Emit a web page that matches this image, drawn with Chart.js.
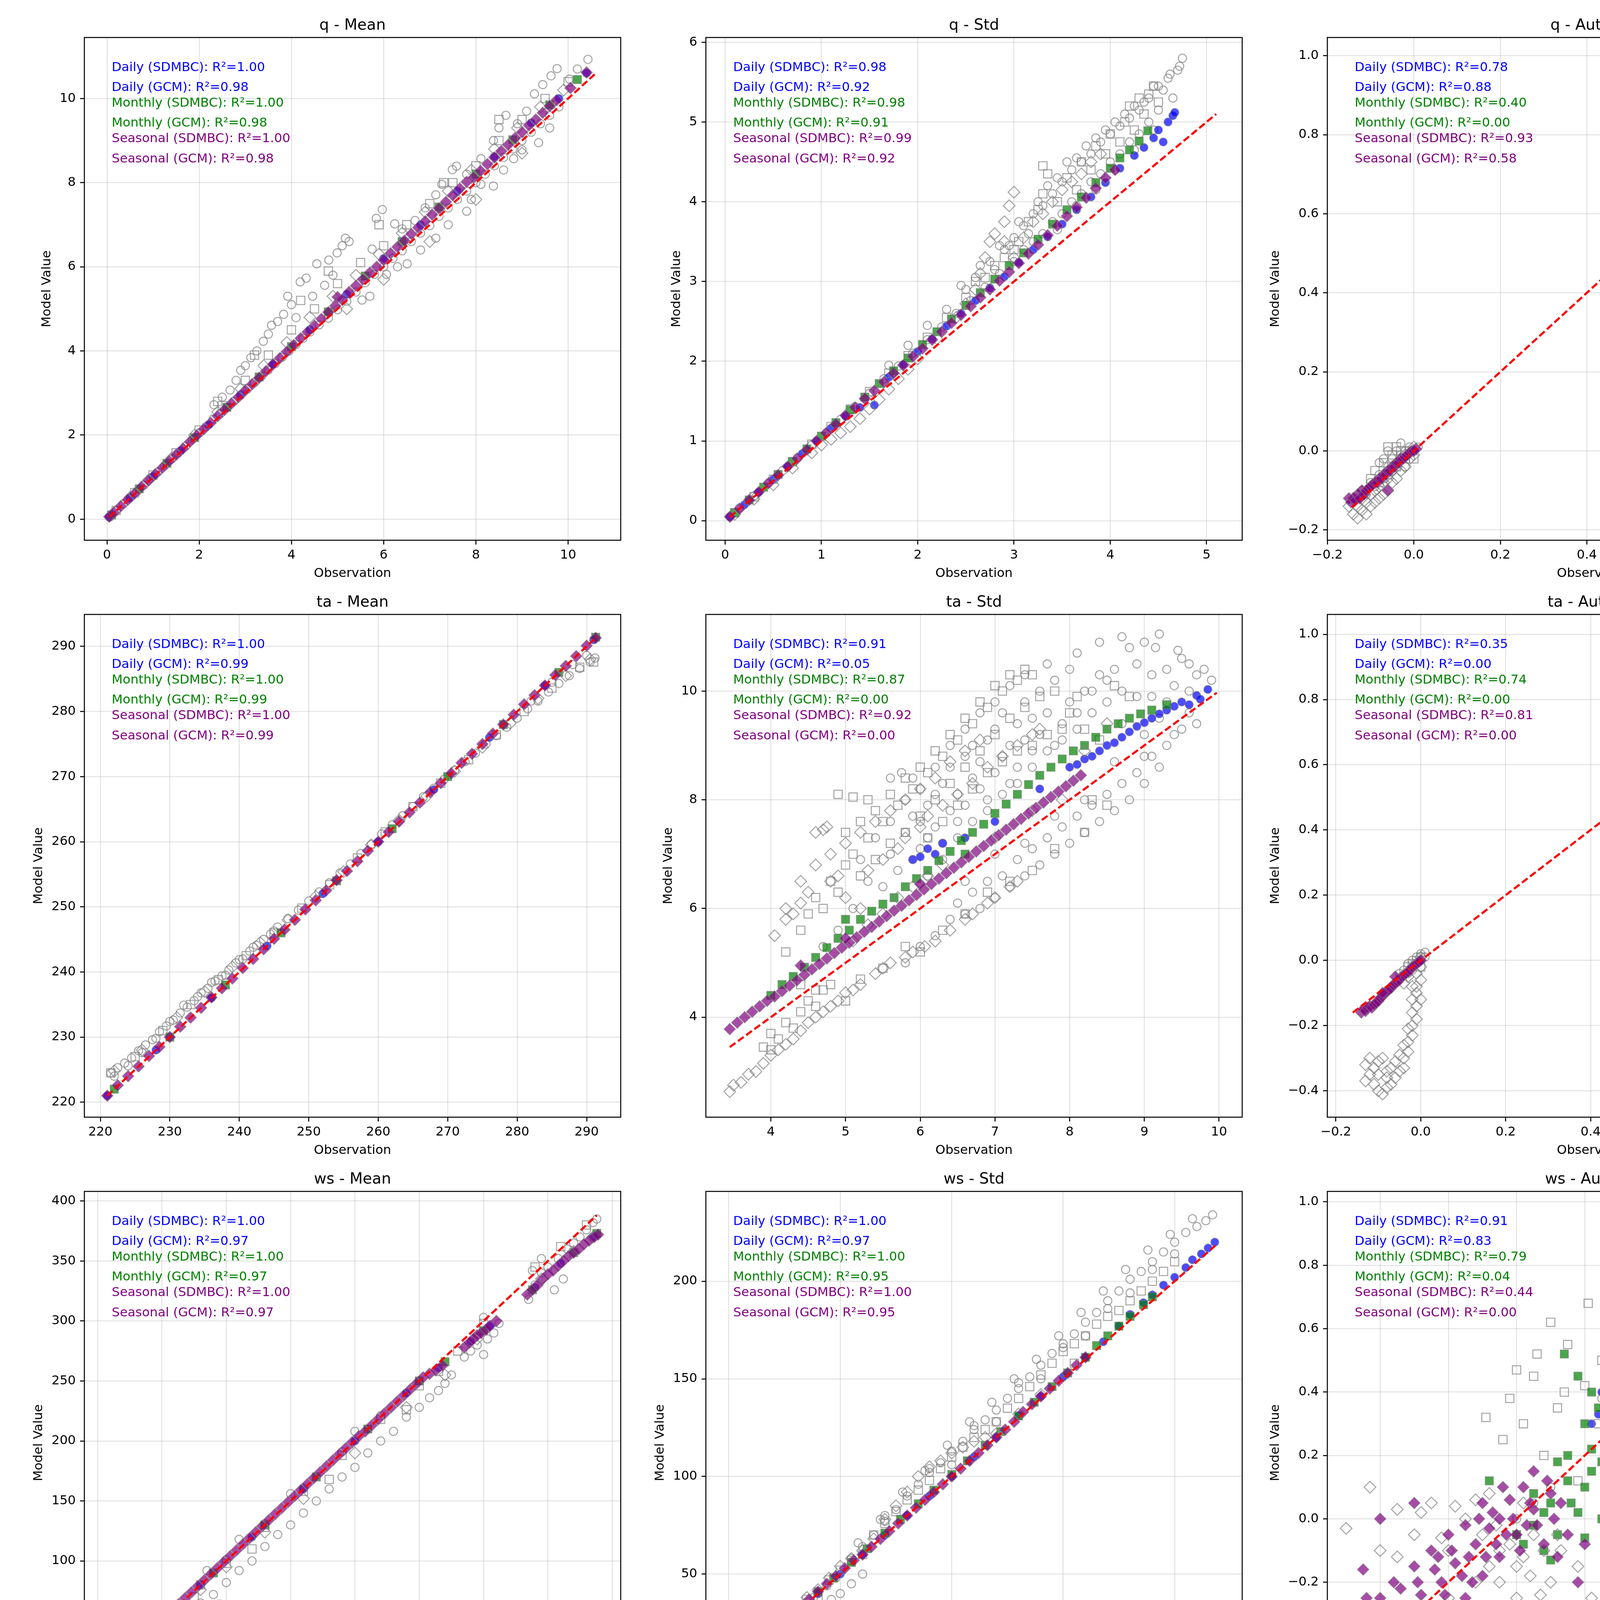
<!DOCTYPE html>
<html lang="en">
<head>
<meta charset="UTF-8" />
<title>SDMBC vs GCM Raw - Scatter Panels</title>
<style>
  body { margin: 0; background: #fff; width: 4823px; height: 6220px; position: relative; overflow: hidden; font-family: "DejaVu Sans", sans-serif; }
  canvas.panel { position: absolute; }
  .lg { position: absolute; top: 6140px; display: flex; align-items: center; font-weight: bold; font-size: 33px; white-space: nowrap; color: #000; }
  .lg svg { margin-right: 35px; }
</style>
<script src="https://cdn.jsdelivr.net/npm/chart.js"></script>
</head>
<body>
<div class="lg" style="left:1097px"><svg width="30" height="40"><circle cx="15" cy="20" r="10" fill="none" stroke="rgba(128,128,128,0.5)" stroke-width="2.5"/></svg>Daily (GCM Raw)</div>
<div class="lg" style="left:1527px"><svg width="30" height="40"><rect x="5" y="10" width="20" height="20" fill="none" stroke="rgba(128,128,128,0.5)" stroke-width="2.5"/></svg>Monthly (GCM Raw)</div>
<div class="lg" style="left:2019px"><svg width="30" height="40"><polygon points="15,5 29,20 15,35 1,20" fill="none" stroke="rgba(128,128,128,0.5)" stroke-width="2.5"/></svg>Seasonal (GCM Raw)</div>
<div class="lg" style="left:2524px"><svg width="30" height="40"><circle cx="15" cy="20" r="10" fill="rgba(0,0,255,0.7)" stroke="rgba(128,128,128,0.6)" stroke-width="1.5"/></svg>Daily (SDMBC)</div>
<div class="lg" style="left:2917px"><svg width="30" height="40"><rect x="5" y="10" width="20" height="20" fill="rgba(0,128,0,0.7)" stroke="rgba(128,128,128,0.6)" stroke-width="1.5"/></svg>Monthly (SDMBC)</div>
<div class="lg" style="left:3364px"><svg width="30" height="40"><polygon points="15,5 29,20 15,35 1,20" fill="rgba(128,0,128,0.7)" stroke="rgba(128,128,128,0.6)" stroke-width="1.5"/></svg>Seasonal (SDMBC)</div>

<script>
// ---- panel titles, R² labels, axes ----
const titles = ['q - Mean', 'q - Std', 'q - Autocorr', 'ta - Mean', 'ta - Std', 'ta - Autocorr',
  'ws - Mean', 'ws - Std', 'ws - Autocorr',
  'Cross-Correlation: ws vs ta', 'Cross-Correlation: ta vs q', 'Cross-Correlation: q vs ws'];
const seriesNames = ['Daily (SDMBC)', 'Daily (GCM)', 'Monthly (SDMBC)', 'Monthly (GCM)', 'Seasonal (SDMBC)', 'Seasonal (GCM)'];
const r2Values = [
  [1.00, 0.98, 1.00, 0.98, 1.00, 0.98],
  [0.98, 0.92, 0.98, 0.91, 0.99, 0.92],
  [0.78, 0.88, 0.40, 0.00, 0.93, 0.58],
  [1.00, 0.99, 1.00, 0.99, 1.00, 0.99],
  [0.91, 0.05, 0.87, 0.00, 0.92, 0.00],
  [0.35, 0.00, 0.74, 0.00, 0.81, 0.00],
  [1.00, 0.97, 1.00, 0.97, 1.00, 0.97],
  [1.00, 0.97, 1.00, 0.95, 1.00, 0.95],
  [0.91, 0.83, 0.79, 0.04, 0.44, 0.00],
  [0.92, 0.00, 0.95, 0.00, 0.94, 0.00],
  [0.74, 0.00, 0.47, 0.00, 0.61, 0.00],
  [0.97, 0.00, 0.96, 0.00, 0.95, 0.00]
];
const xMin = [-0.49, -0.2, -0.2, 217.7, 3.13, -0.22, -10.3, -10.3, -0.555, -1.06, 0.566, -1.054];
const xMax = [11.14, 5.37, 1.04, 294.9, 10.31, 1.043, 406.6, 230.3, 1.018, 0.99, 1.012, 0.943];
const yMin = [-0.5, -0.245, -0.226, 217.7, 2.16, -0.481, -11, -11.5, -0.553, -1.059, 0.418, -1.053];
const yMax = [11.45, 6.06, 1.046, 294.9, 11.41, 1.061, 408, 246, 1.033, 0.992, 1.023, 0.948];
const xStep = [2, 1, 0.2, 10, 1, 0.2, 50, 50, 0.2, 0.25, 0.05, 0.25];
const yStep = [2, 1, 0.2, 10, 2, 0.2, 50, 50, 0.2, 0.25, 0.1, 0.25];
const xDec = [0, 0, 1, 0, 0, 1, 0, 0, 1, 2, 2, 2];
const yDec = [0, 0, 1, 0, 0, 1, 0, 0, 1, 2, 1, 2];
const oneToOne = [[0.05, 10.6], [0.05, 5.1], [-0.143, 0.976], [221, 291.5], [3.45, 9.97], [-0.16, 0.972],
  [6, 388], [0, 219], [-0.48, 0.94], [-0.97, 0.9], [0.585, 0.99], [-0.964, 0.84]];

// ---- q - Mean ----
const qMean_dRaw = [[0.05,0.05],[0.2,0.2],[0.35,0.36],[0.5,0.51],[0.65,0.66],[0.8,0.81],[0.95,0.97],[1.1,1.12],[1.25,1.27],[1.4,1.43],[1.55,1.58],[1.7,1.73],[1.85,1.9],[2.0,2.05],[2.15,2.2],[2.3,2.38],[2.45,2.5],[2.6,2.66],[2.75,2.8],[2.9,2.95],[3.05,3.1],[3.2,3.25],[3.35,3.4],[3.5,3.55],[3.65,3.7],[3.8,3.85],[3.95,4.0],[4.1,4.15],[4.25,4.3],[4.4,4.45],[4.6,4.62],[4.8,4.78],[5.0,4.98],[5.2,5.18],[5.4,5.4],[5.6,5.62],[5.8,5.82],[6.0,6.0],[6.2,6.2],[6.4,6.38],[6.6,6.6],[6.8,6.8],[7.0,6.98],[7.2,7.2],[7.4,7.4],[7.6,7.6],[7.8,7.8],[8.0,8.0],[8.2,8.2],[8.4,8.4],[8.6,8.6],[8.8,8.8],[9.0,9.0],[9.2,9.2],[9.4,9.4],[9.6,9.6],[9.8,9.8],
  [2.32,2.72],[2.5,2.9],[2.67,3.07],[2.8,3.3],[2.9,3.54],[3.0,3.65],[3.12,3.84],[3.25,4.0],[3.39,4.23],[3.5,4.4],[3.57,4.61],[3.7,4.7],[3.83,4.87],[3.92,5.3],[4.0,5.1],[4.1,4.79],[4.19,5.64],[4.32,5.73],[4.46,5.3],[4.55,6.07],[4.72,5.56],[4.81,6.16],[4.9,5.8],[4.99,6.33],[5.1,6.5],[5.17,6.68],[5.25,6.6],[5.75,6.42],[5.84,7.15],[5.97,7.36],[6.24,7.02],[6.4,6.9],[6.68,7.1],[6.9,7.4],[7.13,7.71],[7.26,7.96],[7.49,8.31],[7.58,8.39],[7.8,8.2],[8.11,8.57],[8.38,9.0],[8.5,9.3],[8.65,9.6],[8.9,9.4],[9.1,9.7],[9.27,10.11],[9.45,10.33],[9.63,10.54],[9.76,10.71],[10.03,10.46],[10.2,10.7],[10.43,10.93],
  [5.53,5.21],[5.7,5.3],[6.06,5.82],[6.3,6.0],[6.51,6.07],[6.8,6.4],[7.13,6.68],[7.4,7.0],[7.8,7.32],[7.9,7.6],[8.11,7.96],[8.38,7.92],[8.6,8.3],[8.82,8.57],[9.0,8.78],[9.36,8.95],[9.6,9.3]];
const qMean_mRaw = [[0.2,0.21],[0.6,0.63],[1.0,1.05],[1.5,1.58],[2.0,2.12],[2.5,2.7],[3.0,3.3],[3.5,3.9],[4.0,4.5],[4.5,5.0],[5.0,5.6],[5.5,6.1],[6.0,6.5],[6.5,7.0],[7.0,7.5],[7.5,8.0],[8.0,8.4],[8.5,9.0],[9.0,9.5],[9.5,10.0],[10.0,10.4],[2.4,2.8],[3.2,3.9],[4.2,5.2],[4.8,5.9],[5.9,7.0],[7.3,8.0],[8.5,9.5]];
const qMean_sRaw = [[0.1,0.1],[0.5,0.52],[0.9,0.93],[1.4,1.45],[1.9,2.0],[2.4,2.55],[2.9,3.1],[3.4,3.65],[3.9,4.2],[4.4,4.8],[4.9,5.3],[5.4,5.8],[5.9,6.3],[6.4,6.8],[6.9,7.3],[7.4,7.8],[7.9,8.3],[8.4,8.8],[8.9,9.3],[9.4,9.8],[9.9,10.2],[5.2,5.0],[6.0,5.7],[7.0,6.6],[8.0,7.6],[9.0,8.7]];
const qMean_dSd = [[0.05,0.05],[0.5,0.51],[1.0,1.02],[1.6,1.63],[2.2,2.24],[2.9,2.96],[3.6,3.68],[4.4,4.5],[5.2,5.35],[6.0,6.2],[6.8,7.0],[7.6,7.8],[8.4,8.62],[9.2,9.42],[9.8,10.0],[10.4,10.6]];
const qMean_mSd = [[0.1,0.1],[0.7,0.72],[1.3,1.33],[1.9,1.94],[2.6,2.66],[3.3,3.38],[4.0,4.1],[4.8,4.93],[5.6,5.78],[6.4,6.6],[7.2,7.42],[8.0,8.2],[8.8,9.02],[9.6,9.85],[10.2,10.45]];
const qMean_sSd = [[0.05,0.06],[0.15,0.16],[0.3,0.31],[0.45,0.46],[0.6,0.61],[0.75,0.77],[0.9,0.92],[1.05,1.07],[1.2,1.22],[1.35,1.38],[1.5,1.53],[1.65,1.68],[1.8,1.84],[1.95,1.99],[2.1,2.14],[2.25,2.29],[2.4,2.45],[2.55,2.6],[2.7,2.75],[2.85,2.9],[3.0,3.06],[3.15,3.21],[3.3,3.36],[3.45,3.52],[3.6,3.68],[3.75,3.83],[3.9,3.98],[4.05,4.14],[4.2,4.3],[4.35,4.45],[4.5,4.6],[4.65,4.76],[4.8,4.92],[4.95,5.07],[5.0,5.28],[5.1,5.22],[5.25,5.4],[5.4,5.55],[5.55,5.7],[5.7,5.86],[5.85,6.0],[6.0,6.16],[6.15,6.32],[6.3,6.47],[6.45,6.62],[6.6,6.78],[6.75,6.93],[6.9,7.08],[7.05,7.24],[7.2,7.39],[7.35,7.54],[7.5,7.7],[7.65,7.86],[7.8,8.02],[7.95,8.12],[8.1,8.28],[8.25,8.44],[8.4,8.6],[8.55,8.75],[8.7,8.9],[8.85,9.06],[9.0,9.2],[9.15,9.36],[9.3,9.5],[9.45,9.66],[9.6,9.82],[9.75,9.96],[10.05,10.25],[10.4,10.62]];

// ---- q - Std ----
const qStd_dRaw = [[0.05,0.05],[0.15,0.16],[0.3,0.31],[0.45,0.47],[0.6,0.63],[0.75,0.79],[0.9,0.95],[1.05,1.1],[1.2,1.27],[1.35,1.43],[1.5,1.6],[1.65,1.78],[1.8,1.94],[1.95,2.1],[2.1,2.27],[2.25,2.43],[2.4,2.6],[2.55,2.76],[2.7,2.93],[2.85,3.1],
  [1.7,1.95],[1.9,2.2],[2.1,2.45],[2.3,2.65],[2.5,2.9],[2.6,3.05],[2.75,3.25],[2.9,3.4],[3.0,3.55],[3.0,3.25],[3.1,3.7],[3.1,3.4],[3.2,3.85],[3.2,3.5],[3.3,3.95],[3.3,3.6],[3.4,4.1],[3.4,3.75],[3.5,4.25],[3.5,3.85],[3.6,4.4],[3.6,4.0],[3.7,4.5],[3.7,4.1],[3.8,4.6],[3.8,4.25],[3.9,4.75],[3.9,4.35],[4.0,4.85],[4.0,4.5],[4.1,4.95],[4.1,4.6],[4.2,5.05],[4.2,4.75],[4.3,5.15],[4.3,4.85],[4.4,5.3],[4.4,5.0],[4.5,5.45],[4.5,5.15],[4.6,5.55],[4.65,5.3],[4.7,5.65],[4.75,5.8],[4.72,5.7],[3.55,4.5],[3.75,4.7],[3.95,4.9],[4.15,5.1],[4.35,5.25],[4.55,5.4],[3.35,4.2],[3.15,3.6],[2.95,3.45],[2.8,3.15],
  [2.45,2.95],[2.65,3.2],[2.85,3.45],[3.05,3.75],[3.25,4.0],[3.45,4.3],[3.65,4.55],[3.85,4.8],[4.05,5.0],[4.25,5.2],[4.45,5.45],[4.62,5.6],[4.25,4.65],[4.45,4.9],[3.45,3.65],[3.65,3.95],[3.85,4.15],[4.05,4.4]];
const qStd_mRaw = [[0.1,0.1],[0.3,0.3],[0.5,0.52],[0.7,0.74],[0.9,0.96],[1.1,1.18],[1.3,1.4],[1.5,1.62],[1.7,1.85],[1.9,2.07],[2.1,2.3],[2.3,2.55],[2.5,2.8],[2.7,3.05],[2.9,3.3],[3.05,3.5],[3.15,3.75],[3.25,3.9],[3.3,4.1],[3.35,4.35],[3.3,4.45],[3.45,4.0],[3.55,4.3],[3.65,4.15],[3.7,4.5],[3.8,4.4],[3.85,4.7],[3.95,4.6],[4.0,4.85],[4.1,4.75],[4.15,5.0],[4.2,5.2],[4.25,4.9],[4.3,5.3],[4.35,5.1],[4.4,5.35],[4.45,5.45],[4.5,5.25],[2.6,3.0],[2.8,3.2],[3.0,3.4]];
const qStd_sRaw = [[0.1,0.08],[0.3,0.27],[0.5,0.45],[0.7,0.66],[0.9,0.85],[1.0,0.95],[1.1,1.02],[1.2,1.1],[1.3,1.18],[1.4,1.28],[1.5,1.4],[1.6,1.52],[1.7,1.65],[1.8,1.78],[1.9,1.9],[2.0,2.03],[2.2,2.28],[2.4,2.55],[2.5,2.72],[2.6,2.9],[2.65,3.1],[2.7,3.3],[2.75,3.5],[2.8,3.6],[2.9,3.75],[2.95,3.95],[3.0,4.12],[2.9,3.5],[3.0,3.3],[3.1,3.55],[3.2,3.75],[3.3,3.85],[3.4,4.0],[3.5,4.15],[3.6,4.25],[3.7,4.35],[3.8,4.5],[3.9,4.6]];
const qStd_dSd = [[0.05,0.05],[0.2,0.2],[0.35,0.36],[0.5,0.52],[0.65,0.68],[0.8,0.84],[0.95,1.0],[1.1,1.16],[1.25,1.31],[1.4,1.42],[1.55,1.45],[1.7,1.8],[1.85,1.96],[2.0,2.12],[2.15,2.28],[2.3,2.44],[2.45,2.6],[2.6,2.76],[2.75,2.92],[2.9,3.06],[3.05,3.24],[3.2,3.4],[3.35,3.56],[3.5,3.72],[3.65,3.9],[3.8,4.06],[3.95,4.24],[4.1,4.42],[4.25,4.58],[4.35,4.68],[4.45,4.8],[4.5,4.9],[4.55,4.75],[4.6,5.0],[4.65,5.08],[4.67,5.12]];
const qStd_mSd = [[0.1,0.1],[0.25,0.26],[0.4,0.42],[0.55,0.58],[0.7,0.74],[0.85,0.9],[1.0,1.06],[1.15,1.23],[1.3,1.39],[1.45,1.55],[1.6,1.72],[1.75,1.88],[1.9,2.04],[2.05,2.21],[2.2,2.37],[2.35,2.53],[2.5,2.7],[2.65,2.86],[2.8,3.03],[2.95,3.2],[3.1,3.36],[3.25,3.53],[3.4,3.72],[3.55,3.9],[3.7,4.06],[3.85,4.24],[4.0,4.42],[4.1,4.55],[4.2,4.65],[4.3,4.76],[4.39,4.89]];
const qStd_sSd = [[0.05,0.05],[0.15,0.15],[0.25,0.26],[0.35,0.36],[0.45,0.47],[0.55,0.57],[0.65,0.68],[0.75,0.78],[0.85,0.89],[0.95,1.0],[1.05,1.1],[1.15,1.21],[1.25,1.32],[1.35,1.42],[1.45,1.53],[1.55,1.63],[1.65,1.74],[1.75,1.85],[1.85,1.95],[1.95,2.06],[2.05,2.16],[2.15,2.27],[2.25,2.37],[2.35,2.48],[2.45,2.58],[2.55,2.69],[2.65,2.8],[2.75,2.9],[2.85,3.01],[2.95,3.12],[3.05,3.23],[3.15,3.35],[3.25,3.46],[3.35,3.58],[3.45,3.7],[3.55,3.82],[3.65,3.93],[3.75,4.05],[3.85,4.17],[3.95,4.3],[4.05,4.4]];

// ---- q - Autocorr ----
const qAc_dRaw = [[0.74,0.79],[0.75,0.78],[0.76,0.8],[0.77,0.79],[0.78,0.81],[0.79,0.8],[0.8,0.82],[0.81,0.81],[0.82,0.83],[0.83,0.82],[0.84,0.84],[0.85,0.83],[0.86,0.85],[0.87,0.84],[0.88,0.86],[0.89,0.87],[0.9,0.88],[0.91,0.89],[0.92,0.9],[0.93,0.92],[0.94,0.93],[0.95,0.95],[0.96,0.96],[0.97,0.97],[0.98,0.99],[0.97,0.99],[0.96,0.985],[0.95,0.975],[0.85,0.8],[0.87,0.82],[0.9,0.85],[0.92,0.87],[0.88,0.81],[0.8,0.77],[0.78,0.76],[0.84,0.86],[0.82,0.86],[0.86,0.89],[0.9,0.93],[0.76,0.83],
  [-0.13,-0.12],[-0.12,-0.1],[-0.11,-0.11],[-0.1,-0.08],[-0.09,-0.09],[-0.08,-0.06],[-0.07,-0.07],[-0.06,-0.04],[-0.05,-0.05],[-0.05,-0.02],[-0.04,-0.03],[-0.04,0.0],[-0.03,-0.01],[-0.03,0.02],[-0.02,0.0],[-0.02,-0.04],[-0.01,0.01],[0.0,0.0],[0.01,0.01],[-0.06,0.0],[-0.07,-0.02],[-0.08,-0.03]];
const qAc_mRaw = [[0.75,0.74],[0.755,0.72],[0.76,0.75],[0.765,0.7],[0.77,0.73],[0.775,0.69],[0.78,0.76],[0.78,0.68],[0.785,0.71],[0.79,0.74],[0.79,0.67],[0.795,0.7],[0.8,0.77],[0.8,0.72],[0.805,0.69],[0.81,0.75],[0.81,0.71],[0.815,0.78],[0.82,0.73],[0.82,0.76],[0.825,0.79],[0.83,0.75],[0.83,0.8],[0.835,0.78],[0.84,0.81],[0.85,0.83],[0.87,0.85],[0.9,0.89],[0.93,0.92],[0.95,0.94],[0.97,0.97],
  [-0.1,-0.07],[-0.09,-0.05],[-0.08,-0.08],[-0.07,-0.03],[-0.06,-0.06],[-0.05,-0.01],[-0.04,-0.04],[-0.03,0.0],[-0.02,-0.02],[-0.01,0.0],[0.0,-0.02],[-0.06,0.01],[-0.04,0.01]];
const qAc_sRaw = [[-0.15,-0.14],[-0.14,-0.16],[-0.14,-0.12],[-0.13,-0.17],[-0.13,-0.14],[-0.12,-0.15],[-0.12,-0.12],[-0.11,-0.16],[-0.11,-0.13],[-0.1,-0.14],[-0.1,-0.11],[-0.09,-0.13],[-0.09,-0.1],[-0.08,-0.12],[-0.08,-0.09],[-0.07,-0.11],[-0.07,-0.08],[-0.06,-0.1],[-0.06,-0.07],[-0.05,-0.08],[-0.05,-0.05],[-0.04,-0.07],[-0.04,-0.04],[-0.03,-0.05],[-0.03,-0.02],[-0.02,-0.04],[-0.02,-0.01],[-0.01,-0.02],[0.0,-0.01],[0.0,0.01],[0.8,0.79],[0.85,0.84],[0.9,0.9],[0.95,0.95]];
const qAc_dSd = [[0.74,0.81],[0.745,0.83],[0.75,0.82],[0.755,0.84],[0.76,0.815],[0.765,0.835],[0.77,0.85],[0.775,0.825],[0.78,0.84],[0.785,0.86],[0.79,0.83],[0.795,0.85],[0.8,0.87],[0.805,0.84],[0.81,0.86],[0.815,0.88],[0.82,0.85],[0.825,0.87],[0.83,0.89],[0.835,0.86],[0.84,0.88],[0.845,0.9],[0.85,0.87],[0.855,0.89],[0.86,0.91],[0.865,0.88],[0.87,0.9],[0.875,0.92],[0.88,0.895],[0.885,0.91],[0.89,0.93],[0.895,0.905],[0.9,0.92],[0.905,0.94],[0.91,0.915],[0.915,0.93],[0.92,0.945],[0.925,0.925],[0.93,0.94],[0.935,0.955],[0.94,0.94],[0.945,0.95],[0.95,0.965],[0.955,0.955],[0.96,0.97],[0.965,0.965],[0.97,0.975],[0.975,0.98],[0.978,0.986]];
const qAc_mSd = [[0.72,0.72],[0.725,0.735],[0.73,0.73],[0.74,0.745],[0.745,0.73],[0.75,0.75],[0.755,0.74],[0.76,0.765],[0.765,0.75],[0.77,0.77],[0.775,0.76],[0.78,0.78],[0.785,0.77],[0.79,0.79],[0.795,0.775],[0.8,0.8],[0.805,0.785],[0.81,0.81],[0.815,0.795],[0.82,0.82],[0.825,0.8],[0.83,0.825],[0.78,0.73],[0.79,0.75],[0.8,0.76]];
const qAc_sSd = [[-0.15,-0.12],[-0.145,-0.13],[-0.14,-0.12],[-0.135,-0.125],[-0.13,-0.11],[-0.125,-0.12],[-0.12,-0.1],[-0.115,-0.11],[-0.11,-0.1],[-0.105,-0.095],[-0.1,-0.09],[-0.095,-0.085],[-0.09,-0.08],[-0.085,-0.08],[-0.08,-0.07],[-0.075,-0.07],[-0.07,-0.06],[-0.065,-0.06],[-0.06,-0.05],[-0.06,-0.1],[-0.055,-0.05],[-0.05,-0.04],[-0.045,-0.04],[-0.04,-0.03],[-0.035,-0.03],[-0.03,-0.02],[-0.025,-0.02],[-0.02,-0.015],[-0.015,-0.01],[-0.01,-0.005],[-0.005,0.0],[0.0,0.0],[0.005,0.005],[0.9,0.9],[0.93,0.93],[0.96,0.96],[0.97,0.97]];

// ---- ta - Mean ----
const taMean_dRaw = [[221.5,224.5],[222.5,225.3],[223.5,226.0],[224.5,226.8],[225.5,227.9],[226.5,228.8],[227.5,229.6],[228.5,230.8],[229.5,231.7],[230.5,232.6],[231.5,233.7],[232.5,234.6],[233.5,235.6],[234.5,236.8],[235.5,237.5],[236.5,238.6],[237.5,239.4],[238.5,240.3],[239.5,241.4],[240.5,242.0],[241.5,243.2],[242.5,244.1],[243.5,245.0],[244.5,245.8],[245.5,246.9],[247,248.2],[248.5,249.5],[250,250.9],[251.5,252.3],[253,253.7],[254.5,255.2],[256,256.6],[257.5,258.2],[259,259.6],[260.5,261.2],[262,262.6],[263.5,264.0],[265,265.4],[266.5,266.9],[268,268.2],[269.5,269.6],[271,271.0],[272.5,272.3],[274,273.6],[275.5,275.0],[277,276.3],[278.5,277.6],[280,279.0],[281.5,280.4],[283,281.6],[284.5,283.0],[286,284.3],[287.5,285.5],[289,286.6],[290.5,287.6],[291.2,288.2],
  [222,224.0],[224,225.6],[226,227.6],[228,229.8],[230,232.4],[232,234.9],[234,236.2],[236,238.4],[238,239.5],[240,241.9],[242,243.8],[245,246.3],[288,287.2],[290,288.6],[285,284.5],[282,281.6]];
const taMean_mRaw = [[221.5,224.5],[225,227],[229,231],[233,235],[237,238.8],[241,242.5],[245,246],[249,249.8],[253,253.4],[257,257.5],[261,261.5],[265,265.4],[269,269],[273,272.6],[277,276.4],[281,280],[285,283.6],[289,286.8],[291,287.6]];
const taMean_sRaw = [[222,224.8],[226,228],[231,233],[235,237],[239,240.8],[243,244.5],[247,248],[251,251.6],[255,255.4],[259,259.5],[263,263.3],[267,267],[271,270.8],[275,274.5],[279,278.2],[283,282],[287,285.5],[290.5,288]];
const taMean_dSd = [[221,221],[228,228],[236,236],[244,244],[252,252],[260,260],[268,268],[276,276],[284,284],[291,291]];
const taMean_mSd = [[222,222],[230,230],[238,238],[246,246],[254,254],[262,262],[270,270],[278,278],[286,286],[291.3,291.4]];
const taMean_sSd = [[221,221],[222.5,222.6],[224,224],[225.5,225.5],[227,227.1],[228.5,228.5],[230,230],[231.5,231.6],[233,233],[234.5,234.5],[236,236.1],[237.5,237.5],[239,239],[240.5,240.6],[242,242],[243.5,243.5],[245,245.1],[246.5,246.5],[248,248],[249.5,249.6],[251,251],[252.5,252.5],[254,254.1],[255.5,255.5],[257,257],[258.5,258.6],[260,260],[261.5,261.5],[263,263.1],[264.5,264.5],[266,266],[267.5,267.6],[269,269],[270.5,270.5],[272,272.1],[273.5,273.5],[275,275],[276.5,276.6],[278,278],[279.5,279.5],[281,281.1],[282.5,282.5],[284,284],[285.5,285.6],[287,287],[288.5,288.5],[290,290.1],[291.3,291.3]];

// ---- ta - Std ----
const taStd_dRaw = [[5.5,6.4],[5.6,7.0],[5.7,6.7],[5.8,7.4],[5.9,6.9],[6.0,7.6],[6.0,7.1],[6.1,7.9],[6.1,7.3],[6.2,8.1],[6.2,7.5],[6.3,7.2],[6.3,8.3],[6.4,7.8],[6.4,8.6],[6.5,7.6],[6.5,8.1],[6.6,8.8],[6.6,7.9],[6.7,8.4],[6.7,9.0],[6.8,8.2],[6.8,8.7],[6.9,9.1],[6.9,8.0],[7.0,8.5],[7.0,9.3],[7.1,8.8],[7.1,9.6],[7.2,8.3],[7.2,9.0],[7.3,9.4],[7.3,8.6],[7.4,9.8],[7.4,9.1],[7.5,8.9],[7.5,9.5],[7.6,10.0],[7.6,9.2],[7.7,9.6],[7.8,10.2],[7.8,9.0],[7.9,9.4],[8.0,9.8],[8.0,10.4],[8.1,9.3],[8.2,10.0],[8.3,9.6],[8.4,10.3],[8.5,9.8],[8.6,10.4],[8.7,10.0],[8.8,10.8],[8.9,10.5],[9.0,10.9],[9.1,10.3],[9.2,11.05],[9.15,10.8],[5.6,8.4],[5.75,8.5],[5.9,8.4],[5.3,6.5],[5.1,6.0],[4.9,5.6],[4.7,5.3],
  [9.3,9.8],[9.4,10.1],[9.5,10.6],[9.6,10.0],[9.7,10.3],[9.8,10.4],[9.9,10.2],[9.2,9.5],[9.0,9.2],
  [6.4,5.8],[6.5,6.1],[6.6,5.9],[6.7,6.3],[6.8,6.0],[6.9,6.5],[7.0,6.2],[7.1,6.6],[7.2,6.4],[7.3,6.9],[7.4,6.6],[7.5,7.1],[7.6,6.8],[7.7,7.3],[7.8,7.0],[7.9,7.5],[8.0,7.2],[8.1,7.7],[8.2,7.4],[8.3,7.9],[8.4,7.6],[8.5,8.1],[8.6,7.8],[8.7,8.3],[8.8,8.0],[8.9,8.5],[9.0,8.3],[9.1,8.8],[9.2,8.6],[9.3,9.0],[9.5,9.3],[5.8,5.0],[6.0,5.3],[6.2,5.5],
  [5.2,6.9],[5.4,7.3],[5.6,7.6],[5.8,8.0],[6.0,8.2],[6.2,8.6],[6.4,9.0],[6.6,9.3],[6.8,9.6],[7.0,9.8],[7.2,10.1],[7.4,10.3],[7.7,10.5],[8.1,10.7],[8.4,10.9],[8.7,11.0],[5.9,7.7],[6.1,6.6],[6.3,6.9],[6.5,7.3],[6.7,7.6],[6.9,7.8],[7.1,8.1],[7.3,8.3],[7.5,8.6],[7.7,8.9],[7.9,9.1],[8.1,9.6],[8.3,10.0],[8.5,10.2],[8.7,9.4],[8.9,9.9],[9.1,9.9],[9.3,10.4],[9.45,10.75],[9.6,10.5],[9.0,8.8],[8.6,8.7],[8.2,8.0],[7.8,7.7],[7.4,7.2],[7.0,7.0],[6.6,6.5],[9.4,9.2],[9.6,9.6],[9.7,9.4]];
const taStd_mRaw = [[4.2,5.2],[4.4,5.6],[4.5,5.9],[4.6,6.2],[4.7,6.0],[4.8,6.5],[4.9,6.3],[4.9,8.1],[5.0,6.8],[5.1,8.05],[5.1,7.0],[5.2,6.6],[5.3,8.0],[5.3,7.3],[5.4,6.9],[5.5,7.6],[5.6,7.2],[5.7,7.9],[5.8,7.4],[5.9,8.2],[6.0,7.7],[6.1,8.5],[6.2,8.0],[6.3,8.8],[6.4,8.3],[6.5,9.1],[6.6,8.6],[6.7,9.4],[6.8,8.9],[6.9,9.7],[7.0,9.2],[7.1,10.0],[7.2,9.5],[7.3,10.2],[7.4,9.7],[7.5,10.3],[7.6,9.9],[7.8,10.0],[8.0,9.6],[8.2,9.3],[8.4,9.1],[8.6,10.1],[8.8,9.9],[8.3,8.0],
  [3.9,3.45],[4.0,3.7],[4.1,3.6],[4.2,3.9],[4.3,3.8],[4.4,4.1],[4.5,4.3],[4.6,4.2],[4.7,4.5],[4.8,4.6],[5.0,4.3],[5.2,4.7],[5.5,4.9],[5.8,5.3],[6.0,5.2],[6.3,5.6],[6.6,5.9],[6.9,6.3],[7.2,6.5],[7.5,6.7],[7.8,7.1],[8.2,7.4],[8.5,7.9],
  [5.0,7.4],[5.2,7.6],[5.4,7.8],[5.6,8.1],[5.8,8.4],[6.0,8.6],[6.2,8.9],[6.4,9.2],[6.6,9.5],[6.8,9.8],[7.0,10.1],[7.2,10.3],[7.4,10.4],[6.1,7.3],[6.3,7.6],[6.5,7.9],[6.7,8.2],[6.9,8.5],[7.1,8.7],[7.3,8.9],[7.5,9.0],[7.7,9.2],[7.9,9.3],[8.1,9.9],[4.4,4.6],[4.6,4.5],[4.0,3.4]];
const taStd_sRaw = [[3.45,2.63],[3.5,2.75],[3.6,2.8],[3.7,2.95],[3.8,3.0],[3.9,3.15],[4.0,3.3],[4.1,3.4],[4.2,3.5],[4.3,3.6],[4.4,3.75],[4.5,3.9],[4.6,4.0],[4.7,4.1],[4.8,4.2],[4.9,4.3],[5.0,4.45],[5.1,4.5],[5.2,4.6],[5.4,4.8],[5.5,4.9],[5.6,5.0],[5.8,5.1],[5.9,5.2],[6.06,5.3],[6.2,5.4],[6.4,5.6],[6.6,5.8],[6.7,5.9],[6.9,6.1],[7.0,6.2],[7.2,6.4],[7.3,6.5],
  [4.05,5.5],[4.2,5.8],[4.3,5.9],[4.4,6.1],[4.5,6.3],[4.6,7.4],[4.7,7.45],[4.75,7.5],[4.8,6.5],[4.9,6.6],[5.0,6.2],[5.2,6.0],[5.3,6.7],[5.5,6.9],[5.7,7.1],[5.8,7.3],[6.0,7.5],[6.1,7.7],[6.3,7.9],[6.5,8.1],[6.7,8.3],[6.9,8.6],[7.1,8.8],[7.3,9.0],[7.5,9.2],[7.6,9.3],[7.9,8.0],[8.2,8.9],[8.5,9.4],[7.0,7.3],[7.5,7.8],
  [4.2,6.0],[4.4,6.5],[4.6,6.8],[4.8,7.0],[5.0,7.2],[5.2,7.4],[5.4,7.6],[5.6,7.8],[5.8,8.0],[6.0,8.2],[6.2,8.4],[6.4,8.7],[6.6,8.9],[6.8,9.1],[5.1,5.4],[5.3,5.7],[5.5,5.9],[5.7,6.2],[5.9,6.4],[6.1,6.6],[6.3,6.8]];
const taStd_dSd = [[5.9,6.9],[6.0,6.95],[6.1,7.1],[6.2,7.0],[6.3,7.2],[6.6,7.3],[7.0,7.6],[7.6,8.2],[8.0,8.6],[8.1,8.65],[8.2,8.75],[8.3,8.8],[8.4,8.9],[8.5,9.0],[8.6,9.05],[8.7,9.15],[8.8,9.25],[8.9,9.35],[9.0,9.42],[9.1,9.5],[9.2,9.58],[9.3,9.65],[9.4,9.72],[9.5,9.8],[9.6,9.75],[9.7,9.92],[9.75,9.85],[9.85,10.03]];
const taStd_mSd = [[4.0,4.4],[4.15,4.6],[4.3,4.75],[4.45,4.92],[4.6,5.1],[4.75,5.28],[4.9,5.45],[5.05,5.6],[5.2,5.8],[5.35,5.95],[5.5,6.08],[5.65,6.2],[5.8,6.4],[5.95,6.55],[6.1,6.7],[6.25,6.88],[6.4,7.05],[6.55,7.25],[6.7,7.4],[6.85,7.55],[7.0,7.75],[7.15,7.92],[7.3,8.1],[7.45,8.28],[7.6,8.45],[7.75,8.6],[7.9,8.75],[8.05,8.9],[8.2,9.0],[8.35,9.15],[8.5,9.3],[8.65,9.4],[8.8,9.5],[8.95,9.58],[9.1,9.65],[9.3,9.75],[6.6,7.0],[5.0,5.8]];
const taStd_sSd = [[3.45,3.78],[3.55,3.9],[3.65,4.0],[3.75,4.1],[3.85,4.2],[3.95,4.3],[4.05,4.38],[4.15,4.48],[4.25,4.58],[4.35,4.68],[4.45,4.78],[4.55,4.88],[4.65,4.98],[4.75,5.08],[4.85,5.18],[4.95,5.28],[5.05,5.37],[5.15,5.47],[5.25,5.57],[5.35,5.66],[5.45,5.76],[5.55,5.86],[5.65,5.96],[5.75,6.05],[5.85,6.15],[5.95,6.25],[6.05,6.35],[6.15,6.45],[6.25,6.55],[6.35,6.65],[6.45,6.75],[6.55,6.85],[6.65,6.95],[6.75,7.05],[6.85,7.15],[6.95,7.25],[7.05,7.35],[7.15,7.45],[7.25,7.55],[7.35,7.65],[7.45,7.75],[7.55,7.85],[7.65,7.95],[7.75,8.05],[7.85,8.15],[7.95,8.25],[8.05,8.35],[8.15,8.45],[4.4,4.95],[5.0,5.45],[6.0,6.45]];

// ---- ta - Autocorr ----
const taAc_dRaw = [[0.92,0.93],[0.93,0.95],[0.935,0.97],[0.94,0.94],[0.945,0.96],[0.95,0.98],[0.955,0.95],[0.96,0.97],[0.965,0.99],[0.97,0.96],[0.975,0.98],[0.98,0.99],[0.97,0.99],[0.96,0.985],[0.95,0.93],[0.94,0.92],[0.93,0.91],[0.975,0.97],[0.985,0.985],[0.955,0.975],
  [-0.04,-0.03],[-0.03,-0.01],[-0.02,-0.03],[-0.02,0.0],[-0.01,-0.01],[-0.01,0.01],[0.0,0.0],[0.0,0.02],[0.01,0.01],[0.01,0.025],[-0.03,-0.04],[-0.05,-0.04]];
const taAc_mRaw = [[0.845,0.86],[0.845,0.85],[0.84,0.84],[0.84,0.83],[0.835,0.82],[0.835,0.81],[0.83,0.8],[0.83,0.79],[0.83,0.78],[0.825,0.77],[0.82,0.76],[0.82,0.75],[0.82,0.74],[0.815,0.73],[0.81,0.72],[0.81,0.71],[0.81,0.7],[0.805,0.69],[0.8,0.68],[0.8,0.67],[0.8,0.66],[0.79,0.655],[0.785,0.65],[0.78,0.645],[0.775,0.64],[0.77,0.635],[0.765,0.63],[0.76,0.62],[0.755,0.61],[0.755,0.6],[0.75,0.59],[0.75,0.58],[0.75,0.57],[0.75,0.56],[0.75,0.55],[0.75,0.54],[0.75,0.53],[0.835,0.85],[0.825,0.83],[0.81,0.79],[0.8,0.77],[0.79,0.75],[0.78,0.73],
  [-0.01,0.0],[0.0,-0.02],[-0.02,-0.01],[-0.03,-0.02],[0.0,0.01]];
const taAc_sRaw = [[0.0,0.01],[0.0,-0.02],[-0.01,-0.04],[0.0,-0.06],[-0.01,-0.08],[-0.01,-0.1],[0.0,-0.12],[-0.01,-0.14],[-0.02,-0.16],[-0.01,-0.18],[-0.02,-0.2],[-0.03,-0.21],[-0.02,-0.23],[-0.03,-0.25],[-0.04,-0.26],[-0.03,-0.28],[-0.05,-0.29],[-0.04,-0.3],[-0.06,-0.31],[-0.07,-0.33],[-0.08,-0.34],[-0.06,-0.36],[-0.09,-0.3],[-0.1,-0.31],[-0.11,-0.33],[-0.12,-0.3],[-0.13,-0.32],[-0.12,-0.35],[-0.13,-0.37],[-0.11,-0.38],[-0.1,-0.4],[-0.09,-0.41],[-0.08,-0.39],[-0.07,-0.38],[-0.08,-0.36],[-0.1,-0.35],[-0.05,-0.34],[-0.04,-0.33],[-0.02,-0.08],[-0.03,-0.05],[-0.04,-0.07],[-0.02,-0.12],[0.95,0.95],[0.96,0.97]];
const taAc_dSd = [[0.93,0.94],[0.935,0.95],[0.94,0.95],[0.945,0.955],[0.95,0.95],[0.955,0.96],[0.96,0.97],[0.965,0.965],[0.97,0.97],[0.94,0.93],[0.95,0.96]];
const taAc_mSd = [[0.745,0.7],[0.75,0.72],[0.75,0.74],[0.755,0.73],[0.76,0.75],[0.765,0.74],[0.77,0.76],[0.775,0.77],[0.78,0.77],[0.785,0.78],[0.79,0.78],[0.795,0.79],[0.8,0.79],[0.805,0.8],[0.81,0.81],[0.815,0.81],[0.82,0.82],[0.825,0.83],[0.83,0.84],[0.835,0.845],[0.84,0.85],[0.845,0.86]];
const taAc_sSd = [[-0.14,-0.16],[-0.135,-0.15],[-0.13,-0.155],[-0.125,-0.145],[-0.12,-0.14],[-0.115,-0.145],[-0.11,-0.135],[-0.105,-0.13],[-0.1,-0.125],[-0.095,-0.115],[-0.09,-0.11],[-0.085,-0.1],[-0.08,-0.095],[-0.075,-0.09],[-0.07,-0.085],[-0.065,-0.075],[-0.06,-0.07],[-0.055,-0.065],[-0.05,-0.06],[-0.045,-0.05],[-0.04,-0.045],[-0.035,-0.04],[-0.03,-0.035],[-0.025,-0.03],[-0.02,-0.02],[-0.015,-0.015],[-0.01,-0.01],[-0.005,-0.005],[0.0,0.0],[-0.06,-0.05],[-0.09,-0.1],[0.95,0.95],[0.96,0.96]];

// ---- ws - Mean ----
const wsMean_dRaw = [[5,12],[8,25],[10,35],[12,18],[14,40],[16,28],[18,10],[20,32],[22,20],[24,42],[26,14],[28,30],[30,22],[32,38],[34,12],[36,26],[38,44],[40,18],[42,32],[44,10],[46,24],[48,40],[50,16],[52,28],[54,12],[56,36],[58,22],[60,46],[62,18],[64,30],[66,52],[68,24],[70,38],[72,16],[74,56],[76,30],[78,44],[80,22],[82,50],[84,34],[86,60],[88,40],[90,48],[92,55],[95,64],[97,50],[100,58],
  [60,48],[70,55],[80,65],[90,72],[100,82],[110,92],[120,100],[130,112],[140,122],[150,130],[160,140],[170,150],[180,160],[190,170],[200,178],[210,190],[220,200],[230,208],[240,220],[250,228],[258,236],[265,242],[270,248],[275,255],
  [285,270],[290,275],[295,280],[300,272],[303,285],[308,290],[312,298],[300,303],
  [335,318],[340,330],[345,340],[350,345],[355,326],[358,352],[362,335],[365,360],[370,365],[375,370],[380,376],[385,382],[388,385],[345,352],[338,342],
  [100,101],[130,131],[160,161],[190,191],[220,221],[250,250],[200,208],[150,156],[110,118],[85,92]];
const wsMean_mRaw = [[10,12],[20,25],[30,35],[40,45],[50,55],[60,62],[80,80],[100,98],[130,128],[160,158],[190,188],[220,218],[250,246],[280,275],[300,298],[340,345],[360,362],[380,380],[35,28],[55,48],[75,70],[120,110],[180,168],[240,226],[265,258]];
const wsMean_sRaw = [[10,15],[20,22],[30,32],[45,44],[60,58],[80,76],[100,95],[130,124],[160,152],[200,190],[240,228],[270,255],[295,285],[345,335],[370,358],[385,370],[15,28],[25,10],[40,30],[70,60]];
const wsMean_dSd = [[8,8],[40,40],[80,80],[120,120],[160,160],[200,200],[240,240],[265,261],[290,283],[305,296],[340,328],[360,348],[385,370]];
const wsMean_mSd = [[10,10],[50,50],[90,90],[130,130],[170,170],[210,210],[250,250],[270,266],[300,292],[338,326],[370,357],[388,373]];
const wsMean_sSd = [[8,8],[13,13],[18,18],[23,23],[28,29],[33,34],[38,39],[43,44],[48,49],[53,54],[58,59],[63,64],[68,69],[73,74],[78,79],[83,84],[88,89],[93,94],[98,99],[103,104],[108,109],[113,114],[118,119],[123,124],[128,129],[133,134],[138,139],[143,144],[148,149],[153,154],[158,159],[163,164],[168,169],[173,174],[178,179],[183,184],[188,189],[193,194],[198,199],[203,204],[208,208],[213,213],[218,218],[223,223],[228,228],[233,233],[238,238],[243,243],[248,248],[253,253],[258,256],[263,259],[268,263],[285,278],[289,282],[292,285],[295,288],[298,290],[302,293],[305,296],[310,300],[334,322],[338,326],[342,330],[346,335],[350,339],[354,342],[358,346],[362,350],[366,354],[370,357],[374,360],[378,364],[382,367],[386,370],[389,372]];

// ---- ws - Std ----
const wsStd_dRaw = [[1,0],[2,2],[3,1],[4,4],[5,2],[6,5],[7,3],[8,7],[9,4],[10,8],[11,5],[12,10],[13,7],[14,12],[15,9],[16,14],[17,10],[18,16],[19,12],[20,18],[21,13],[22,20],[23,15],[24,22],[25,17],[26,25],[27,18],[28,27],[29,20],[30,29],[31,22],[32,31],[33,24],[34,33],[35,26],[36,36],[37,28],[38,38],[39,30],[40,40],[42,34],[44,44],[46,37],[48,48],[50,40],[30,10],[35,14],[40,20],[45,22],[38,6],[25,4],[28,12],[42,26],[46,18],
  [55,58],[60,64],[65,70],[70,77],[75,83],[80,90],[85,96],[90,102],[95,107],[100,113],[105,118],[110,124],[115,129],[120,134],[125,140],[130,145],[135,151],[140,157],[145,163],[150,168],[155,173],[160,179],[165,184],[170,190],[175,195],[180,201],[185,205],[190,210],[195,215],[200,220],[205,225],[210,228],[214,231],[217,234],[100,106],[120,128],[140,150],[160,172],[180,194],[200,214],
  [58,66],[68,78],[78,92],[88,103],[98,116],[108,128],[118,138],[128,150],[138,160],[148,172],[158,184],[168,195],[178,206],[188,216],[198,224],[208,232],[70,80],[90,104],[110,126],[130,148],[150,166],[170,186],[190,206],[15,5],[20,8],[32,12],[44,30],[50,30],[55,45],[60,50]];
const wsStd_mRaw = [[5,6],[10,12],[15,17],[20,22],[25,27],[30,32],[35,37],[40,38],[45,47],[50,52],[55,57],[60,60],[65,70],[70,76],[75,82],[80,88],[85,93],[90,98],[95,104],[100,110],[105,115],[110,120],[115,124],[120,128],[125,135],[130,140],[135,146],[140,152],[145,158],[150,164],[155,168],[160,172],[165,178],[170,182],[175,185],[180,190],[185,195],[190,200],[195,205],[200,210],[155,158]];
const wsStd_sRaw = [[4,3],[8,6],[12,10],[16,14],[20,18],[25,24],[30,30],[35,38],[40,42],[45,48],[50,54],[55,58],[60,62],[65,68],[70,78],[75,85],[80,92],[85,100],[90,105],[95,108],[100,112],[105,115],[110,118],[115,120],[120,122],[130,132],[140,142]];
const wsStd_dSd = [[0,0],[6,6],[12,12],[18,18],[25,25],[32,32],[40,40],[50,50],[60,60],[70,70],[80,80],[90,90],[100,100],[110,110],[120,120],[130,131],[140,141],[150,151],[160,161],[168,169],[175,177],[180,183],[186,189],[190,193],[195,198],[200,202],[205,207],[208,211],[212,214],[215,217],[218,220]];
const wsStd_mSd = [[0,1],[6,7],[12,13],[18,19],[25,26],[32,33],[40,41],[47,48],[55,56],[62,63],[70,71],[77,78],[85,86],[92,93],[100,101],[107,108],[115,116],[122,123],[130,131],[137,138],[145,146],[152,153],[160,161],[165,167],[170,172],[175,177],[180,182],[186,188],[190,192]];
const wsStd_sSd = [[0,0],[4,4],[8,8],[12,13],[16,17],[20,21],[24,25],[28,29],[32,33],[36,37],[40,41],[44,45],[48,49],[52,53],[56,57],[60,60],[64,64],[68,68],[72,72],[76,76],[80,80],[84,84],[88,88],[92,92],[96,96],[100,100],[104,104],[108,108],[112,112],[116,116],[120,120],[124,124],[128,128],[132,133],[136,137],[140,141],[144,145],[148,149],[152,153],[156,157],[160,161]];

// ---- ws - Autocorr ----
const wsAc_dRaw = [[0.94,0.95],[0.93,0.92],[0.92,0.88],[0.9,0.85],[0.9,0.8],[0.88,0.75],[0.86,0.7],[0.85,0.62],[0.83,0.72],[0.82,0.55],[0.8,0.65],[0.78,0.5],[0.76,0.6],[0.74,0.45],[0.72,0.55],[0.7,0.4],[0.68,0.5],[0.65,0.42],[0.6,0.48],[0.55,0.38],[0.5,0.45],[0.45,0.35],[0.42,0.48],[0.38,0.3],[0.35,0.42],[0.3,0.35],[0.28,0.45],[0.88,0.6],[0.9,0.7],[0.92,0.75],[0.84,0.4],[0.8,0.3],[0.86,0.5],[0.6,0.56],[0.4,0.25],[0.5,0.3],[0.0,0.0],[0.05,0.05],[0.1,0.1],[0.7,0.7],[0.75,0.76],[0.82,0.82],[0.88,0.88],
  [0.91,0.9],[0.89,0.82],[0.87,0.78],[0.85,0.74],[0.84,0.66],[0.81,0.6],[0.79,0.56],[0.77,0.68],[0.73,0.62],[0.66,0.52],[0.62,0.4],[0.57,0.45],[0.47,0.4],[0.33,0.28],[0.25,0.38]];
const wsAc_mRaw = [[0.27,0.72],[0.21,0.68],[0.35,0.68],[0.1,0.62],[0.15,0.55],[0.25,0.5],[0.05,0.45],[0.0,0.47],[-0.09,0.32],[-0.04,0.25],[0.02,0.3],[0.12,0.35],[0.2,0.42],[0.3,0.3],[0.35,0.25],[0.4,0.2],[0.45,0.15],[0.5,0.08],[0.56,0.09],[0.62,0.05],[0.66,0.02],[0.7,0.15],[0.75,0.25],[0.77,0.44],[0.8,0.35],[0.82,0.2],[0.84,0.1],[0.72,0.35],[0.6,0.2],[0.28,0.0],[0.35,0.05],[0.55,0.3],[0.65,0.3],[0.18,0.12],[0.08,0.2],[0.86,0.55],[0.9,0.62],[0.92,0.82],[0.68,0.45],[0.42,0.4],
  [0.78,0.4],[0.79,0.3],[0.81,0.15],[0.76,0.05],[0.74,0.12],[0.58,0.15],[0.52,0.22],[0.46,0.3],[0.38,0.12],[0.24,0.3],[0.14,0.4],[0.06,0.52],[-0.02,0.38],[0.32,0.58],[0.86,0.65]];
const wsAc_sRaw = [[-0.5,-0.03],[-0.43,0.1],[-0.4,-0.1],[-0.35,0.03],[-0.3,-0.05],[-0.25,0.05],[-0.2,-0.1],[-0.15,0.0],[-0.1,-0.05],[-0.05,-0.1],[0.0,-0.15],[0.05,-0.05],[0.0,-0.25],[-0.02,-0.39],[0.05,-0.3],[0.1,-0.2],[0.15,-0.34],[0.08,-0.1],[-0.05,-0.2],[-0.27,-0.48],[-0.2,-0.25],[0.12,-0.05],[0.18,-0.15],[0.02,0.05],[-0.08,0.08],[-0.12,-0.2],[0.0,-0.32],[0.4,-0.1],[0.22,-0.25],[-0.3,-0.3],
  [-0.18,0.04],[-0.12,0.06],[-0.06,-0.02],[-0.02,-0.08],[0.02,-0.12],[0.04,-0.18],[0.07,-0.24],[0.1,-0.28],[0.13,-0.1],[-0.08,-0.15],[-0.04,-0.28],[0.06,-0.36],[-0.22,-0.06],[-0.28,0.02],[-0.35,-0.12]];
const wsAc_dSd = [[0.26,0.35],[0.28,0.42],[0.3,0.47],[0.3,0.38],[0.32,0.5],[0.33,0.44],[0.35,0.52],[0.35,0.36],[0.37,0.48],[0.38,0.41],[0.4,0.55],[0.4,0.46],[0.42,0.5],[0.43,0.38],[0.45,0.56],[0.46,0.47],[0.48,0.52],[0.5,0.6],[0.5,0.49],[0.52,0.55],[0.55,0.62],[0.57,0.58],[0.58,0.68],[0.6,0.64],[0.62,0.72],[0.64,0.7],[0.66,0.76],[0.68,0.74],[0.7,0.8],[0.72,0.78],[0.74,0.82],[0.76,0.84],[0.78,0.85],[0.8,0.87],[0.82,0.88],[0.84,0.89],[0.86,0.9],[0.88,0.91],[0.9,0.92],[0.92,0.93],[0.94,0.94],[0.22,0.3],[0.27,0.28],[0.36,0.32],[0.6,0.76],[0.54,0.66],
  [0.24,0.33],[0.25,0.4],[0.27,0.46],[0.29,0.52],[0.31,0.41],[0.33,0.55],[0.34,0.39],[0.36,0.45],[0.37,0.56],[0.39,0.5],[0.41,0.43],[0.42,0.58],[0.44,0.52],[0.45,0.42],[0.47,0.58],[0.49,0.45],[0.51,0.64],[0.53,0.52],[0.55,0.58],[0.56,0.7],[0.59,0.62],[0.61,0.7],[0.63,0.66],[0.65,0.78],[0.67,0.72],[0.69,0.77],[0.71,0.83],[0.73,0.8],[0.75,0.85],[0.77,0.82],[0.79,0.86],[0.81,0.86],[0.83,0.9],[0.85,0.88],[0.87,0.91],[0.89,0.9],[0.91,0.93],[0.93,0.94],[0.32,0.34],[0.4,0.36],[0.46,0.4],[0.29,0.37]];
const wsAc_mSd = [[0.1,0.05],[0.15,0.12],[0.2,0.1],[0.22,0.22],[0.25,0.18],[0.28,0.3],[0.3,0.14],[0.32,0.25],[0.35,0.2],[0.38,0.08],[0.4,0.28],[0.42,0.15],[0.45,0.32],[0.48,0.22],[0.5,0.4],[0.52,0.3],[0.55,0.45],[0.58,0.38],[0.6,0.5],[0.62,0.42],[0.65,0.55],[0.68,0.5],[0.7,0.6],[0.72,0.55],[0.75,0.68],[0.78,0.65],[0.8,0.75],[0.82,0.8],[0.3,0.55],[0.2,0.3],[0.25,0.0],[0.12,-0.05],[0.18,0.02],[0.08,-0.1],[0.05,-0.02],[0.35,0.12],[0.45,0.1],[0.55,0.2],[0.6,0.3],[0.28,0.4],[0.38,0.35],[0.48,0.12],[0.1,-0.13],[0.02,-0.08],[0.14,0.52],[0.18,0.45],[0.22,0.4],[-0.08,0.12],[0.2,-0.06],
  [0.15,0.2],[0.22,0.15],[0.26,0.25],[0.3,0.2],[0.33,0.08],[0.36,0.28],[0.39,0.18],[0.42,0.35],[0.44,0.22],[0.47,0.3],[0.5,0.18],[0.53,0.38],[0.56,0.3],[0.59,0.45],[0.61,0.38],[0.64,0.5],[0.67,0.6],[0.69,0.55],[0.73,0.62],[0.76,0.7],[0.79,0.72],[0.84,0.82],[0.32,0.45],[0.24,0.35],[0.28,0.08],[0.16,0.05],[0.08,0.02],[0.0,-0.05],[0.05,0.08],[0.12,0.18]];
const wsAc_sSd = [[-0.48,-0.37],[-0.45,-0.3],[-0.42,-0.42],[-0.4,-0.25],[-0.38,-0.35],[-0.36,-0.2],[-0.35,-0.4],[-0.33,-0.28],[-0.3,-0.15],[-0.3,-0.33],[-0.28,-0.24],[-0.26,-0.38],[-0.25,-0.1],[-0.22,-0.2],[-0.2,-0.3],[-0.2,-0.05],[-0.18,-0.14],[-0.15,-0.02],[-0.15,-0.25],[-0.12,-0.08],[-0.1,0.05],[-0.1,-0.18],[-0.08,-0.03],[-0.05,0.0],[-0.05,-0.12],[-0.02,0.06],[0.0,-0.05],[0.02,0.1],[0.03,-0.02],[0.05,0.15],[0.05,0.03],[0.08,-0.08],[0.1,0.08],[0.12,-0.12],[0.15,-0.05],[-0.4,0.0],[-0.3,0.05],[-0.25,-0.38],[0.2,-0.08],[0.4,-0.12],[0.18,-0.2],[-0.15,-0.35],[-0.45,-0.16],
  [-0.44,-0.25],[-0.41,-0.33],[-0.37,-0.28],[-0.34,-0.22],[-0.32,-0.38],[-0.29,-0.2],[-0.27,-0.3],[-0.24,-0.16],[-0.21,-0.24],[-0.19,-0.1],[-0.17,-0.28],[-0.14,-0.12],[-0.13,-0.2],[-0.11,0.0],[-0.09,-0.12],[-0.07,0.02],[-0.06,-0.08],[-0.04,0.1],[-0.03,-0.05],[-0.01,0.0],[0.01,-0.1],[0.04,0.05],[0.06,-0.02],[0.09,0.12],[0.11,0.0],[0.13,0.05],[-0.16,-0.18],[-0.23,-0.12]];

// ---- Cross-Correlation: ws vs ta ----
const xWsTa_dRaw = [[-0.97,-0.85],[-0.95,-0.7],[-0.92,-0.6],[-0.9,-0.75],[-0.88,-0.5],[-0.85,-0.62],[-0.82,-0.42],[-0.8,-0.55],[-0.78,-0.35],[-0.75,-0.45],[-0.72,-0.3],[-0.7,-0.38],[-0.65,-0.22],[-0.62,-0.3],[-0.6,-0.15],[-0.55,-0.2],[-0.5,-0.08],[-0.48,-0.15],[-0.45,0.0],[-0.4,-0.05],[-0.35,0.05],[-0.3,0.1],[-0.28,-0.02],[-0.25,0.12],[-0.2,0.05],[-0.15,0.18],[-0.1,0.1],[-0.05,0.22],[0.0,0.15],[0.05,0.25],[0.1,0.2],[0.13,0.31],[0.15,0.1],[0.2,0.05],[0.25,-0.05],[0.35,-0.2],[0.3,-0.28],[-0.1,0.45],[0.0,0.6],[0.05,0.68],[-0.2,0.35],[-0.3,0.28],[0.25,0.5],[0.35,0.65],[0.5,0.7],[0.4,0.55],[-0.6,0.05],[-0.7,-0.1],[0.08,0.48],[0.2,0.4],
  [-0.96,-0.8],[-0.94,-0.65],[-0.93,-0.78],[-0.91,-0.55],[-0.89,-0.68],[-0.87,-0.58],[-0.86,-0.45],[-0.84,-0.52],[-0.83,-0.38],[-0.81,-0.48],[-0.79,-0.4],[-0.77,-0.3],[-0.76,-0.42],[-0.74,-0.25],[-0.73,-0.35],[-0.71,-0.2],[-0.68,-0.28],[-0.66,-0.15],[-0.64,-0.25],[-0.58,-0.1],[-0.56,-0.22],[-0.52,-0.02],[-0.42,0.08],[-0.38,-0.02],[-0.33,0.15],[-0.22,0.2],[-0.12,0.25],[-0.02,0.3],[0.08,0.35],[-0.08,0.05]];
const xWsTa_mRaw = [[-0.85,-0.15],[-0.75,0.22],[-0.7,0.05],[-0.65,0.4],[-0.6,0.3],[-0.55,0.15],[-0.5,0.5],[-0.45,0.35],[-0.4,0.6],[-0.35,0.2],[-0.3,0.45],[-0.25,0.7],[-0.2,0.55],[-0.15,0.3],[-0.1,0.75],[-0.05,0.5],[0.0,0.35],[0.05,0.8],[0.1,0.6],[0.15,0.45],[0.2,0.7],[0.25,0.55],[0.3,0.62],[0.35,0.75],[0.4,0.68],[0.45,0.55],[0.5,0.3],[0.6,0.1],[0.55,-0.45],[0.7,-0.35],[0.8,-0.55],[0.85,-0.6],[0.4,-0.55],[0.45,-0.6],[0.78,0.0],[0.3,-0.1],[-0.95,-0.4],[-0.9,-0.55],[-0.8,-0.3],[0.15,0.8],[-0.05,0.85],[0.82,0.1],[0.6,0.7],
  [-0.93,-0.7],[-0.88,-0.45],[-0.85,-0.6],[-0.82,-0.2],[-0.78,-0.5],[-0.72,-0.15],[-0.68,0.1],[-0.62,-0.05],[-0.58,0.4],[-0.52,0.25],[-0.42,0.45],[-0.38,0.1],[-0.22,0.4],[-0.12,0.55],[0.02,0.65],[0.12,0.72],[0.22,0.6],[0.28,0.72]];
const xWsTa_sRaw = [[-0.95,-0.5],[-0.92,-0.25],[-0.9,-0.1],[-0.85,0.2],[-0.82,0.35],[-0.8,0.05],[-0.78,-0.2],[-0.75,0.4],[-0.72,0.1],[-0.7,0.55],[-0.65,0.25],[-0.6,0.38],[-0.55,0.6],[-0.5,0.45],[-0.45,0.7],[-0.4,0.3],[-0.35,0.5],[-0.3,0.62],[-0.2,0.75],[-0.1,0.8],[0.0,0.88],[0.05,0.72],[0.15,0.85],[0.25,0.8],[0.4,0.78],[0.5,0.85],[0.65,0.82],[0.8,0.7],[0.9,0.75],[0.85,0.35],[0.88,0.02],[0.8,-0.75],[0.7,-0.72],[0.9,-0.8],[0.5,-0.65],[0.45,-0.72],[0.3,-0.42],[0.62,-0.72],[0.88,-0.6],[0.85,-0.55],[-0.95,-0.7],[-0.9,-0.85],
  [-0.97,-0.6],[-0.96,-0.4],[-0.94,-0.55],[-0.93,-0.3],[-0.91,-0.45],[-0.89,-0.2],[-0.88,-0.35],[-0.86,-0.05],[-0.84,-0.25],[-0.83,0.1],[-0.81,-0.1],[-0.79,0.25],[-0.77,0.0],[-0.76,0.3],[-0.74,-0.05],[-0.68,0.2],[-0.62,0.45],[-0.58,0.15]];
const xWsTa_dSd = [[-0.95,-0.95],[-0.9,-0.88],[-0.85,-0.84],[-0.8,-0.78],[-0.75,-0.73],[-0.7,-0.68],[-0.65,-0.62],[-0.6,-0.55],[-0.55,-0.52],[-0.5,-0.47],[-0.45,-0.43],[-0.4,-0.37],[-0.35,-0.32],[-0.3,-0.28],[-0.25,-0.22],[-0.2,-0.17],[-0.15,-0.12],[-0.1,-0.08],[-0.05,-0.03],[0.0,0.0],[0.05,0.03],[0.1,0.07],[0.15,0.12],[0.02,-0.05],[-0.03,-0.1],[0.08,-0.02],[0.12,-0.15],[0.22,-0.05],[0.25,-0.1],[0.04,-0.32],[0.02,-0.41],[-0.15,-0.25],[-0.25,-0.35],[-0.3,-0.45],[-0.4,-0.5],[0.1,-0.35],[-0.5,-0.6],[0.0,0.05],[0.05,0.08],
  [-0.97,-0.96],[-0.92,-0.9],[-0.87,-0.86],[-0.82,-0.8],[-0.77,-0.76],[-0.72,-0.7],[-0.67,-0.65],[-0.62,-0.6],[-0.57,-0.54],[-0.52,-0.5],[-0.47,-0.44],[-0.42,-0.4],[-0.37,-0.34],[-0.32,-0.3],[-0.27,-0.25],[-0.22,-0.2],[-0.17,-0.14],[-0.12,-0.1],[-0.07,-0.05],[-0.02,0.0],[0.03,0.04],[0.07,0.06]];
const xWsTa_mSd = [[-0.95,-0.92],[-0.88,-0.85],[-0.8,-0.72],[-0.75,-0.8],[-0.7,-0.62],[-0.62,-0.6],[-0.55,-0.48],[-0.5,-0.55],[-0.45,-0.4],[-0.4,-0.58],[-0.35,-0.3],[-0.3,-0.4],[-0.25,-0.2],[-0.2,-0.3],[-0.15,-0.1],[-0.1,-0.45],[-0.05,-0.05],[0.0,0.05],[0.05,-0.08],[0.1,0.1],[0.15,0.2],[0.2,0.15],[0.25,0.28],[0.3,0.25],[0.35,0.35],[0.4,0.3],[0.45,0.45],[0.5,0.4],[0.55,0.55],[0.6,0.5],[0.65,0.6],[0.78,0.55],[0.82,0.45],[0.8,0.4],[0.48,0.12],[0.2,-0.48],[0.5,-0.4],[0.3,-0.6],[-0.1,-0.7],[0.2,-0.22],[-0.35,-0.75],[-0.55,-0.78],
  [-0.93,-0.9],[-0.83,-0.82],[-0.73,-0.7],[-0.63,-0.62],[-0.53,-0.5],[-0.43,-0.42],[-0.33,-0.32],[-0.23,-0.22],[-0.13,-0.12],[-0.03,-0.02],[0.07,0.06],[0.17,0.16],[0.27,0.26],[0.37,0.36],[0.47,0.46]];
const xWsTa_sSd = [[-0.95,-0.93],[-0.9,-0.95],[-0.85,-0.8],[-0.8,-0.85],[-0.75,-0.68],[-0.7,-0.78],[-0.65,-0.55],[-0.6,-0.7],[-0.55,-0.6],[-0.5,-0.45],[-0.45,-0.65],[-0.4,-0.35],[-0.35,-0.5],[-0.3,-0.25],[-0.25,-0.38],[-0.2,-0.15],[-0.15,-0.6],[-0.1,-0.05],[-0.05,0.05],[0.0,-0.1],[0.05,0.08],[0.1,-0.2],[0.15,0.15],[0.2,0.1],[0.25,0.25],[0.3,0.2],[0.35,0.4],[0.4,0.32],[0.45,0.5],[0.5,0.45],[0.55,0.6],[0.6,0.55],[0.65,0.65],[0.7,0.58],[0.75,0.72],[0.78,0.78],[0.85,0.62],[0.88,0.65],[0.85,0.05],[0.75,-0.26],[0.55,-0.52],[0.6,-0.55],[0.2,-0.62],[-0.35,-0.8],[-0.5,-0.85],[-0.2,-0.55],
  [-0.97,-0.97],[-0.92,-0.9],[-0.88,-0.85],[-0.83,-0.78],[-0.78,-0.75],[-0.73,-0.7],[-0.68,-0.65],[-0.63,-0.6],[-0.58,-0.55],[-0.48,-0.5],[-0.38,-0.4],[-0.28,-0.3],[-0.18,-0.2],[-0.08,-0.1],[0.02,0.0],[0.12,0.1],[0.22,0.2],[0.32,0.3],[0.42,0.4],[0.52,0.5],[0.62,0.6],[0.72,0.7]];

// ---- Cross-Correlation: ta vs q ----
const xTaQ_dRaw = [[0.62,0.445],[0.63,0.47],[0.64,0.48],[0.65,0.46],[0.66,0.49],[0.67,0.52],[0.68,0.5],[0.69,0.54],[0.7,0.57],[0.71,0.6],[0.72,0.62],[0.73,0.64],[0.74,0.66],[0.75,0.65],[0.76,0.68],[0.77,0.67],[0.78,0.7],[0.79,0.72],[0.8,0.71],[0.81,0.74],[0.82,0.73],[0.83,0.76],[0.84,0.74],[0.85,0.7],[0.85,0.78],[0.86,0.8],[0.87,0.76],[0.88,0.83],[0.89,0.8],[0.9,0.86],[0.91,0.84],[0.92,0.88],[0.93,0.9],[0.94,0.92],[0.95,0.94],[0.96,0.96],[0.97,0.97],[0.98,0.98],[0.99,0.99],[0.84,0.95],[0.86,0.97],[0.88,0.94],[0.9,0.97],[0.92,0.98],[0.85,0.93],[0.82,0.9],[0.87,0.77],[0.89,0.78],[0.86,0.74],[0.7,0.55],[0.75,0.7],
  [0.72,0.59],[0.74,0.62],[0.76,0.64],[0.78,0.67],[0.8,0.69],[0.82,0.71],[0.84,0.73],[0.86,0.76],[0.88,0.78],[0.9,0.8],[0.92,0.84],[0.94,0.88],[0.96,0.92],[0.98,0.95],[0.81,0.68],[0.83,0.71],[0.85,0.74],[0.87,0.8],[0.89,0.82],[0.91,0.86],[0.93,0.88],[0.97,0.94],[0.88,0.92],[0.9,0.94],[0.94,0.98],[0.96,0.99]];
const xTaQ_mRaw = [[0.9,0.72],[0.91,0.74],[0.9,0.76],[0.92,0.8],[0.93,0.84],[0.94,0.86],[0.95,0.88],[0.96,0.9],[0.97,0.93],[0.98,0.95],[0.99,0.98],[0.96,0.96],[0.97,0.99],[0.98,0.99],[0.95,0.98],[0.94,0.97],[0.93,0.96],
  [0.915,0.78],[0.925,0.82],[0.935,0.83],[0.945,0.85],[0.955,0.87],[0.965,0.91],[0.975,0.94],[0.985,0.96],[0.99,0.97],[0.98,0.98],[0.97,0.96],[0.96,0.94],[0.95,0.92]];
const xTaQ_sRaw = [[0.93,0.83],[0.935,0.85],[0.94,0.82],[0.945,0.87],[0.95,0.86],[0.955,0.89],[0.96,0.9],[0.965,0.88],[0.97,0.92],[0.975,0.94],[0.98,0.96],[0.985,0.97],[0.99,0.99],[0.96,0.98],[0.97,0.99],[0.95,0.97]];
const xTaQ_dSd = [[0.62,0.585],[0.625,0.6],[0.63,0.62],[0.64,0.64],[0.65,0.66],[0.66,0.67],[0.67,0.68],[0.68,0.685],[0.69,0.69],[0.7,0.71],[0.71,0.72],[0.72,0.73],[0.73,0.74],[0.74,0.76],[0.75,0.74],[0.75,0.78],[0.76,0.77],[0.77,0.75],[0.77,0.8],[0.78,0.78],[0.79,0.81],[0.8,0.77],[0.8,0.83],[0.81,0.8],[0.82,0.85],[0.83,0.82],[0.83,0.87],[0.84,0.84],[0.85,0.89],[0.85,0.8],[0.86,0.86],[0.87,0.9],[0.87,0.83],[0.88,0.88],[0.89,0.92],[0.89,0.85],[0.9,0.9],[0.91,0.94],[0.91,0.87],[0.92,0.93],[0.93,0.96],[0.94,0.95],[0.95,0.97],[0.96,0.98],[0.97,0.985],[0.98,0.99],[0.78,0.74],[0.82,0.78],[0.84,0.91],[0.88,0.95],[0.76,0.72],[0.72,0.71],[0.7,0.68],
  [0.74,0.72],[0.76,0.74],[0.78,0.76],[0.79,0.79],[0.81,0.82],[0.82,0.8],[0.84,0.86],[0.86,0.83],[0.86,0.88],[0.88,0.86],[0.9,0.88],[0.9,0.93],[0.92,0.91],[0.93,0.94],[0.94,0.97],[0.8,0.8],[0.83,0.84],[0.85,0.85],[0.87,0.87],[0.89,0.89],[0.77,0.77],[0.73,0.72],[0.71,0.7],[0.69,0.67],[0.8,0.75]];
const xTaQ_mSd = [[0.9,0.86],[0.905,0.88],[0.91,0.85],[0.915,0.9],[0.92,0.87],[0.925,0.89],[0.93,0.91],[0.935,0.88],[0.94,0.92],[0.945,0.9],[0.95,0.93],[0.955,0.91],[0.96,0.94],[0.965,0.92],[0.97,0.95],[0.975,0.96],[0.98,0.97],[0.92,0.9],[0.94,0.94]];
const xTaQ_sSd = [[0.92,0.92],[0.93,0.93],[0.94,0.935],[0.95,0.95],[0.955,0.94],[0.96,0.96],[0.965,0.955],[0.97,0.97],[0.975,0.965],[0.98,0.975],[0.985,0.985],[0.99,0.99],[0.93,0.9],[0.95,0.96],[0.97,0.98]];

// ---- Cross-Correlation: q vs ws ----
const xQWs_dRaw = [[-0.95,-0.75],[-0.92,-0.6],[-0.9,-0.45],[-0.88,-0.7],[-0.85,-0.35],[-0.82,-0.5],[-0.8,-0.25],[-0.78,-0.4],[-0.75,-0.15],[-0.72,-0.3],[-0.7,0.05],[-0.65,-0.1],[-0.6,0.1],[-0.55,-0.05],[-0.5,0.18],[-0.45,0.0],[-0.4,0.25],[-0.35,0.1],[-0.3,0.3],[-0.25,0.15],[-0.2,0.35],[-0.15,0.22],[-0.1,0.4],[-0.05,0.28],[0.0,0.3],[0.05,0.2],[0.1,0.35],[-0.3,-0.15],[-0.2,-0.25],[-0.1,-0.3],[0.05,-0.5],[-0.05,-0.45],[0.25,-0.2],[-0.4,-0.1],[-0.6,-0.45],[-0.5,-0.3],[0.15,0.1],[0.2,0.4],[0.3,0.45],[-0.35,0.5],[-0.55,0.4],[-0.75,0.2],
  [-0.96,-0.85],[-0.94,-0.7],[-0.93,-0.8],[-0.91,-0.62],[-0.89,-0.55],[-0.87,-0.6],[-0.86,-0.45],[-0.84,-0.55],[-0.83,-0.4],[-0.81,-0.3],[-0.79,-0.45],[-0.77,-0.2],[-0.74,-0.35],[-0.68,-0.05],[-0.62,-0.2],[-0.58,0.0],[-0.52,-0.12],[-0.48,0.1],[-0.42,0.05],[-0.38,0.2],[-0.32,0.0],[-0.28,0.2],[-0.18,0.1],[-0.08,0.2]];
const xQWs_mRaw = [[-0.95,-0.55],[-0.9,-0.3],[-0.85,-0.1],[-0.8,0.1],[-0.75,-0.45],[-0.7,0.25],[-0.65,0.45],[-0.6,0.2],[-0.55,0.6],[-0.5,0.35],[-0.45,0.72],[-0.4,0.5],[-0.35,0.3],[-0.3,0.6],[-0.25,0.45],[-0.2,0.7],[-0.15,0.55],[-0.1,0.62],[-0.05,0.5],[0.0,0.4],[0.1,0.6],[0.2,0.7],[0.3,0.55],[0.4,0.35],[0.5,0.4],[0.55,-0.6],[0.6,-0.52],[0.7,-0.3],[0.8,-0.55],[0.78,-0.7],[0.8,0.05],[0.75,0.65],[0.65,0.7],[0.2,-0.1],[0.1,-0.38],[-0.2,-0.15],
  [-0.93,-0.7],[-0.91,-0.45],[-0.88,-0.6],[-0.86,-0.25],[-0.83,-0.5],[-0.81,-0.05],[-0.78,-0.3],[-0.72,0.0],[-0.68,0.15],[-0.62,0.35],[-0.58,0.05],[-0.52,0.5],[-0.42,0.4],[-0.38,0.65],[-0.28,0.4],[-0.18,0.5],[0.05,0.55],[0.15,0.68]];
const xQWs_sRaw = [[-0.9,-0.15],[-0.85,0.1],[-0.8,0.3],[-0.75,0.48],[-0.7,0.6],[-0.65,0.35],[-0.6,0.7],[-0.55,0.5],[-0.5,0.82],[-0.45,0.65],[-0.4,0.85],[-0.35,0.75],[-0.3,0.55],[-0.2,0.8],[-0.1,0.72],[0.0,0.78],[0.1,0.75],[0.2,0.7],[0.3,0.75],[0.4,0.72],[0.5,0.8],[0.6,0.78],[0.7,0.6],[0.8,0.35],[0.82,-0.1],[0.82,-0.55],[0.8,-0.82],[0.78,-0.75],[0.6,-0.68],[0.5,-0.72],[0.4,-0.48],[0.35,-0.75],[0.2,-0.75],[-0.25,-0.45],[-0.15,-0.6],[-0.95,-0.85],[-0.92,-0.5],
  [-0.96,-0.65],[-0.94,-0.4],[-0.93,-0.6],[-0.91,-0.3],[-0.89,0.05],[-0.88,-0.2],[-0.86,0.25],[-0.84,-0.05],[-0.82,0.35],[-0.78,0.15],[-0.72,0.4],[-0.68,0.2],[-0.62,0.55],[-0.58,0.3]];
const xQWs_dSd = [[-0.95,-0.95],[-0.9,-0.88],[-0.85,-0.84],[-0.8,-0.78],[-0.75,-0.74],[-0.7,-0.7],[-0.65,-0.64],[-0.6,-0.6],[-0.55,-0.55],[-0.5,-0.5],[-0.45,-0.44],[-0.4,-0.4],[-0.35,-0.35],[-0.3,-0.3],[-0.25,-0.25],[-0.2,-0.2],[-0.15,-0.15],[-0.1,-0.1],[-0.05,-0.05],[0.0,0.0],[0.05,0.05],[0.1,0.1],[0.15,0.15],[0.2,0.2],[0.25,0.25],[-0.7,-0.62],[-0.6,-0.5],[-0.5,-0.58],[-0.1,-0.32],[0.0,-0.35],[0.05,-0.22],[-0.35,-0.45],[0.1,0.0],[-0.05,0.05],
  [-0.92,-0.9],[-0.87,-0.86],[-0.82,-0.8],[-0.77,-0.76],[-0.72,-0.71],[-0.67,-0.66],[-0.62,-0.6],[-0.57,-0.56],[-0.52,-0.51],[-0.47,-0.46],[-0.42,-0.41],[-0.37,-0.36],[-0.32,-0.31],[-0.27,-0.26],[-0.22,-0.21],[-0.17,-0.16],[-0.12,-0.11],[-0.07,-0.06],[0.03,0.02],[0.08,0.07],[0.13,0.12],[0.18,0.17]];
const xQWs_mSd = [[-0.92,-0.88],[-0.85,-0.78],[-0.8,-0.72],[-0.75,-0.85],[-0.7,-0.6],[-0.65,-0.72],[-0.6,-0.48],[-0.55,-0.62],[-0.5,-0.4],[-0.45,-0.52],[-0.4,-0.3],[-0.35,-0.42],[-0.3,-0.2],[-0.25,-0.32],[-0.2,-0.1],[-0.15,-0.22],[-0.1,-0.02],[-0.05,-0.12],[0.0,0.08],[0.05,-0.05],[0.1,0.15],[0.15,0.05],[0.2,0.22],[0.25,0.12],[0.3,0.3],[0.35,0.2],[0.4,0.4],[0.45,0.3],[0.5,0.45],[0.55,0.35],[0.6,0.25],[0.65,0.5],[0.7,0.52],[0.75,0.45],[0.8,0.4],[0.7,0.08],[0.45,-0.15],[0.15,-0.38],[-0.6,-0.78],[-0.25,-0.6],[0.3,-0.55],[0.15,0.0],
  [-0.94,-0.93],[-0.88,-0.85],[-0.78,-0.76],[-0.68,-0.66],[-0.58,-0.56],[-0.48,-0.46],[-0.38,-0.36],[-0.28,-0.26],[-0.18,-0.16],[-0.08,-0.06],[0.02,0.03],[0.12,0.1],[0.22,0.2],[0.32,0.28],[0.42,0.38]];
const xQWs_sSd = [[-0.95,-0.92],[-0.9,-0.8],[-0.85,-0.9],[-0.8,-0.7],[-0.75,-0.8],[-0.7,-0.65],[-0.65,-0.8],[-0.6,-0.55],[-0.55,-0.68],[-0.5,-0.42],[-0.45,-0.6],[-0.4,-0.35],[-0.35,-0.5],[-0.3,-0.22],[-0.25,-0.4],[-0.2,-0.12],[-0.15,-0.28],[-0.1,-0.05],[-0.05,-0.2],[0.0,0.05],[0.05,-0.08],[0.1,0.12],[0.15,0.02],[0.2,0.22],[0.25,0.1],[0.3,0.32],[0.35,0.22],[0.4,0.45],[0.45,0.35],[0.5,0.5],[0.55,0.42],[0.6,0.6],[0.65,0.7],[0.7,0.65],[0.75,0.72],[0.8,0.6],[0.82,0.57],[0.8,0.1],[0.75,-0.22],[0.55,-0.55],[0.52,-0.45],[0.35,-0.58],[0.4,-0.7],[0.2,-0.82],[-0.3,-0.62],[-0.2,-0.75],[-0.45,-0.85],
  [-0.96,-0.96],[-0.91,-0.88],[-0.86,-0.83],[-0.81,-0.8],[-0.76,-0.72],[-0.71,-0.7],[-0.66,-0.63],[-0.61,-0.6],[-0.56,-0.53],[-0.46,-0.45],[-0.36,-0.35],[-0.26,-0.25],[-0.16,-0.15],[-0.06,-0.05],[0.04,0.05],[0.14,0.15],[0.24,0.25],[0.34,0.35],[0.44,0.45],[0.54,0.55]];

// order: daily raw, monthly raw, seasonal raw, daily sdmbc, monthly sdmbc, seasonal sdmbc
const panelData = [
  [qMean_dRaw, qMean_mRaw, qMean_sRaw, qMean_dSd, qMean_mSd, qMean_sSd],
  [qStd_dRaw, qStd_mRaw, qStd_sRaw, qStd_dSd, qStd_mSd, qStd_sSd],
  [qAc_dRaw, qAc_mRaw, qAc_sRaw, qAc_dSd, qAc_mSd, qAc_sSd],
  [taMean_dRaw, taMean_mRaw, taMean_sRaw, taMean_dSd, taMean_mSd, taMean_sSd],
  [taStd_dRaw, taStd_mRaw, taStd_sRaw, taStd_dSd, taStd_mSd, taStd_sSd],
  [taAc_dRaw, taAc_mRaw, taAc_sRaw, taAc_dSd, taAc_mSd, taAc_sSd],
  [wsMean_dRaw, wsMean_mRaw, wsMean_sRaw, wsMean_dSd, wsMean_mSd, wsMean_sSd],
  [wsStd_dRaw, wsStd_mRaw, wsStd_sRaw, wsStd_dSd, wsStd_mSd, wsStd_sSd],
  [wsAc_dRaw, wsAc_mRaw, wsAc_sRaw, wsAc_dSd, wsAc_mSd, wsAc_sSd],
  [xWsTa_dRaw, xWsTa_mRaw, xWsTa_sRaw, xWsTa_dSd, xWsTa_mSd, xWsTa_sSd],
  [xTaQ_dRaw, xTaQ_mRaw, xTaQ_sRaw, xTaQ_dSd, xTaQ_mSd, xTaQ_sSd],
  [xQWs_dRaw, xQWs_mRaw, xQWs_sRaw, xQWs_dSd, xQWs_mSd, xQWs_sSd]
];

// ---- layout (px) ----
const colLeft = [216, 1807, 3398];
const rowTop = [96, 1573, 3050, 4527];
const AX_W = 1373, AX_H = 1287;
const PAD_L = 216, PAD_T = 96, PAD_R = 40, PAD_B = 130;
const annColors = ['#0000ff', '#0000ff', '#008000', '#008000', '#800080', '#800080'];
const annDy = [78, 129, 169, 220, 260, 312];

Chart.defaults.font.family = '"DejaVu Sans", sans-serif';

const fmt = (v, d) => {
  if (Math.abs(v) < 1e-9) v = 0;
  return v.toFixed(d).replace('-', '\u2212');
};
const toXY = arr => arr.map(p => ({ x: p[0], y: p[1] }));

const decor = {
  id: 'decor',
  afterDraw(chart, args, o) {
    const ctx = chart.ctx, a = chart.chartArea;
    const cx = (a.left + a.right) / 2;
    ctx.save();
    ctx.strokeStyle = '#000';
    ctx.lineWidth = 2.6;
    ctx.strokeRect(a.left, a.top, a.right - a.left, a.bottom - a.top);

    ctx.fillStyle = '#000';
    ctx.textAlign = 'center';
    ctx.textBaseline = 'alphabetic';
    ctx.font = '39px "DejaVu Sans"';
    ctx.fillText(o.title, cx, a.top - 20);

    ctx.font = '32.5px "DejaVu Sans"';
    ctx.textBaseline = 'middle';
    ctx.fillText('Observation', cx, a.bottom + 86);

    let w = 0;
    chart.scales.y.ticks.forEach(t => { w = Math.max(w, ctx.measureText(String(t.label)).width); });
    ctx.save();
    ctx.translate(a.left - 22 - w - 13 - 19, (a.top + a.bottom) / 2);
    ctx.rotate(-Math.PI / 2);
    ctx.fillText('Model Value', 0, 0);
    ctx.restore();

    ctx.textAlign = 'left';
    o.r2.forEach((r, i) => {
      ctx.fillStyle = annColors[i];
      ctx.fillText(seriesNames[i] + ': R\u00b2=' + r.toFixed(2), a.left + 70, a.top + annDy[i]);
    });
    ctx.restore();
  }
};

const rawStyle = { backgroundColor: 'rgba(0,0,0,0)', borderColor: 'rgba(128,128,128,0.7)', borderWidth: 2.6 };
const sdEdge = { borderColor: 'rgba(128,128,128,0.6)', borderWidth: 1.8 };

function makePanel(i) {
  const col = i % 3, row = Math.floor(i / 3);
  const canvas = document.createElement('canvas');
  canvas.className = 'panel';
  canvas.width = PAD_L + AX_W + PAD_R;
  canvas.height = PAD_T + AX_H + PAD_B;
  canvas.style.left = (colLeft[col] - PAD_L) + 'px';
  canvas.style.top = (rowTop[row] - PAD_T) + 'px';
  canvas.style.width = canvas.width + 'px';
  canvas.style.height = canvas.height + 'px';
  document.body.appendChild(canvas);

  const d = panelData[i];
  const lo = oneToOne[i][0], hi = oneToOne[i][1];
  const datasets = [
    { type: 'line', data: toXY([[lo, lo], [hi, hi]]), borderColor: 'red', borderWidth: 5.5,
      borderDash: [18, 8], pointRadius: 0, fill: false },
    Object.assign({ data: toXY(d[5]), pointStyle: 'rectRot', pointRadius: 15, backgroundColor: 'rgba(128,0,128,0.7)' }, sdEdge),
    Object.assign({ data: toXY(d[2]), pointStyle: 'rectRot', pointRadius: 15 }, rawStyle),
    Object.assign({ data: toXY(d[4]), pointStyle: 'rect', pointRadius: 15, backgroundColor: 'rgba(0,128,0,0.7)' }, sdEdge),
    Object.assign({ data: toXY(d[1]), pointStyle: 'rect', pointRadius: 15 }, rawStyle),
    Object.assign({ data: toXY(d[3]), pointStyle: 'circle', pointRadius: 10.5, backgroundColor: 'rgba(0,0,255,0.7)' }, sdEdge),
    Object.assign({ data: toXY(d[0]), pointStyle: 'circle', pointRadius: 10.5 }, rawStyle)
  ];

  const grid = { color: 'rgba(176,176,176,0.35)', lineWidth: 2.6, tickColor: '#000', tickWidth: 2.6, tickLength: 11 };
  const tickFont = { size: 32.5 };

  new Chart(canvas, {
    type: 'scatter',
    data: { datasets: datasets },
    options: {
      responsive: false,
      animation: false,
      devicePixelRatio: 1,
      layout: { padding: { left: 0, top: PAD_T, right: PAD_R, bottom: 0 } },
      elements: { point: { hoverRadius: 0 } },
      plugins: {
        legend: { display: false },
        tooltip: { enabled: false },
        decor: { title: titles[i], r2: r2Values[i] }
      },
      scales: {
        x: {
          type: 'linear', min: xMin[i], max: xMax[i],
          ticks: { stepSize: xStep[i], includeBounds: false, autoSkip: false, maxRotation: 0,
            color: '#000', font: tickFont, padding: 8, callback: v => fmt(v, xDec[i]) },
          grid: grid, border: { display: false },
          afterFit: s => { s.height = PAD_B; }
        },
        y: {
          type: 'linear', min: yMin[i], max: yMax[i],
          ticks: { stepSize: yStep[i], includeBounds: false, autoSkip: false,
            color: '#000', font: tickFont, padding: 11, callback: v => fmt(v, yDec[i]) },
          grid: grid, border: { display: false },
          afterFit: s => { s.width = PAD_L; }
        }
      }
    },
    plugins: [decor]
  });
}

for (let i = 0; i < 12; i++) makePanel(i);
</script>
</body>
</html>
